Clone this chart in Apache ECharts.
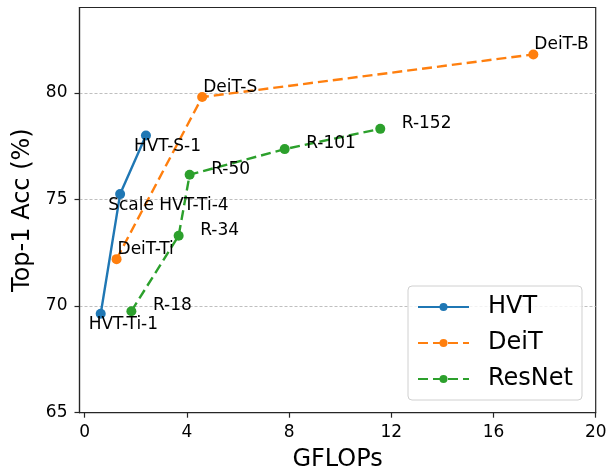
<!DOCTYPE html>
<html>
<head>
<meta charset="utf-8">
<script src="https://cdn.jsdelivr.net/npm/echarts@6/dist/echarts.min.js"></script>
<style>
html,body{margin:0;padding:0;background:#fff;}
#c{width:613px;height:469px;}
</style>
</head>
<body>
<div id="c"></div>
<script>
// ---- data ----
const hvtNames = ['HVT-Ti-1', 'Scale HVT-Ti-4', 'HVT-S-1'];
const hvtX = [0.63, 1.39, 2.40];
const hvtY = [69.64, 75.25, 78.00];

const deitNames = ['DeiT-Ti', 'DeiT-S', 'DeiT-B'];
const deitX = [1.25, 4.6, 17.56];
const deitY = [72.2, 79.8, 81.8];

const resNames = ['R-18', 'R-34', 'R-50', 'R-101', 'R-152'];
const resX = [1.83, 3.68, 4.11, 7.83, 11.57];
const resY = [69.76, 73.3, 76.16, 77.36, 78.31];

const xTicks = [0, 4, 8, 12, 16, 20];
const yTicks = [65, 70, 75, 80];

const FONT = 'DejaVu Sans';

function pts(xs, ys, names) {
  return xs.map((x, i) => ({ value: [x, ys[i]], name: names[i] }));
}

function mkSeries(name, xs, ys, names, color, dashed, off) {
  return {
    name: name,
    type: 'line',
    data: pts(xs, ys, names),
    symbol: 'circle',
    symbolSize: 10,
    showAllSymbol: true,
    color: color,
    itemStyle: { color: color },
    lineStyle: { color: color, width: 2.4, type: dashed ? [10, 5] : 'solid' },
    label: {
      show: true,
      position: 'inside',
      offset: off,
      align: 'left',
      verticalAlign: 'middle',
      formatter: p => p.data.name,
      fontFamily: FONT,
      fontSize: 17,
      color: '#000'
    },
    emphasis: { disabled: true },
    animation: false,
    z: 3
  };
}

const chart = echarts.init(document.getElementById('c'), null, { renderer: 'canvas' });
chart.setOption({
  backgroundColor: '#fff',
  animation: false,
  grid: {
    left: 79.5, right: 17.3, top: 7.5, bottom: 56.3,
    outerBoundsMode: 'none',
    containLabel: false,
    show: true, borderColor: '#262626', borderWidth: 1.2, backgroundColor: 'transparent'
  },
  xAxis: {
    type: 'value',
    min: -0.2, max: 20,
    name: 'GFLOPs',
    nameLocation: 'middle',
    nameGap: 35,
    nameTextStyle: { fontFamily: FONT, fontSize: 24, color: '#000' },
    axisLine: { show: true, onZero: false, lineStyle: { color: '#262626', width: 1.2 } },
    axisTick: { show: true, length: 5, customValues: xTicks, lineStyle: { color: '#262626', width: 1.2 } },
    axisLabel: { customValues: xTicks, margin: 11, fontFamily: FONT, fontSize: 17, color: '#000' },
    splitLine: { show: false }
  },
  yAxis: {
    type: 'value',
    min: 65, max: 84,
    interval: 5,
    name: 'Top-1 Acc (%)',
    nameLocation: 'middle',
    nameGap: 44,
    nameTextStyle: { fontFamily: FONT, fontSize: 24, color: '#000' },
    axisLine: { show: true, onZero: false, lineStyle: { color: '#262626', width: 1.2 } },
    axisTick: { show: true, length: 5, customValues: yTicks, lineStyle: { color: '#262626', width: 1.2 } },
    axisLabel: { customValues: yTicks, margin: 12, fontFamily: FONT, fontSize: 17, color: '#000' },
    splitLine: { show: true, lineStyle: { color: '#b8b8b8', width: 0.9, type: [3, 2] } }
  },
  legend: {
    orient: 'vertical',
    left: 408, top: 286,
    padding: [9, 9, 9, 9],
    itemGap: 12,
    itemWidth: 51,
    itemHeight: 10,
    backgroundColor: 'rgba(255,255,255,0.8)',
    borderColor: '#d0d0d0',
    borderWidth: 1,
    borderRadius: 4,
    textStyle: { fontFamily: FONT, fontSize: 24, color: '#000', lineHeight: 24, padding: [0, 0, 0, 14] },
    data: ['HVT', 'DeiT', 'ResNet']
  },
  series: [
    mkSeries('HVT', hvtX, hvtY, hvtNames, '#1f77b4', false, [-12, 11]),
    mkSeries('DeiT', deitX, deitY, deitNames, '#ff7f0e', true, [1, -9.5]),
    mkSeries('ResNet', resX, resY, resNames, '#2ca02c', true, [21.5, -5.5])
  ]
});
</script>
</body>
</html>
